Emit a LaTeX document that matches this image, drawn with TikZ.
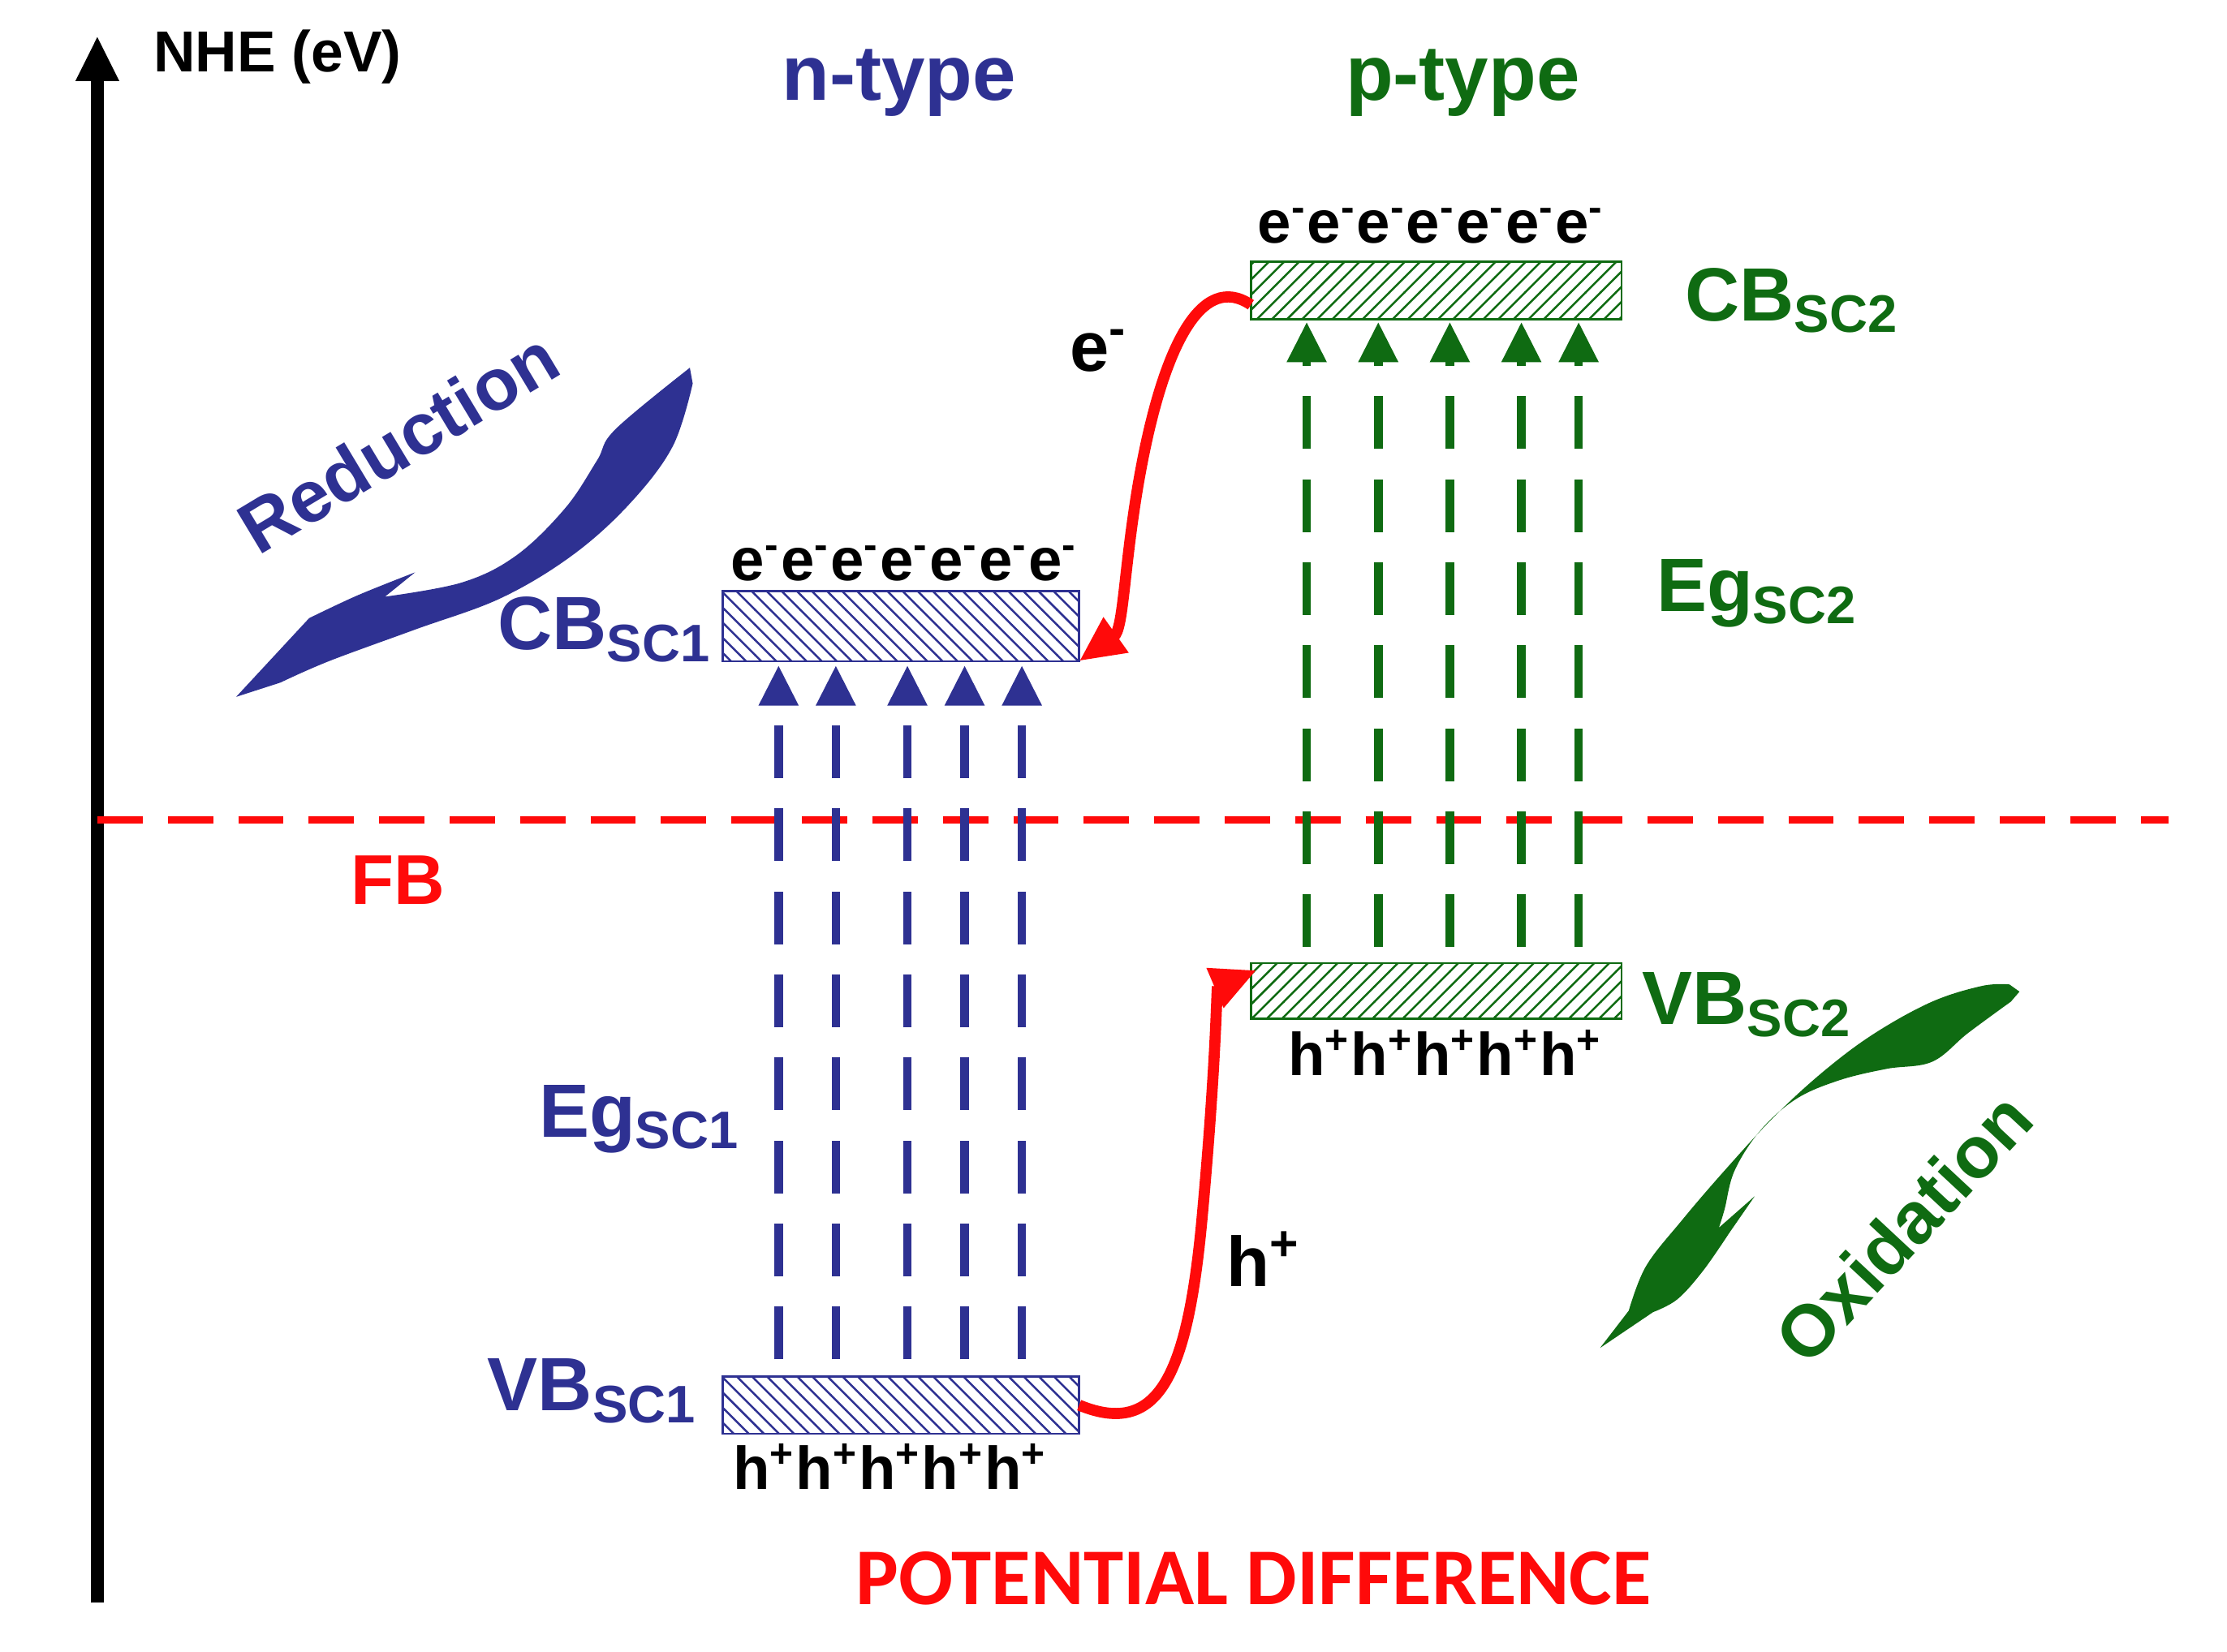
\documentclass[tikz,border=0pt]{standalone}
\usepackage{fontspec}
\setmainfont{Liberation Sans}
\newfontfamily\calib{Carlito}
\usetikzlibrary{patterns,arrows.meta}
\definecolor{nb}{HTML}{2E3192}
\definecolor{pg}{HTML}{0F6B12}
\definecolor{rd}{HTML}{FF0A0A}
\newcommand{\elm}{e\textsuperscript{-}}
\newcommand{\hpl}{h\textsuperscript{+}}
\begin{document}
\begin{tikzpicture}[x=0.01cm,y=-0.01cm,
  lbl/.style={font=\bfseries\fontsize{15}{15}\selectfont},
  bandn/.style={draw=nb,pattern=north west lines,pattern color=nb},
  bandp/.style={draw=pg,pattern=north east lines,pattern color=pg},
  excn/.style={nb,line width=1.7pt,dash pattern=on 10.5pt off 6pt,-{Triangle[length=8pt,width=7.5pt]}},
  excp/.style={pg,line width=1.7pt,dash pattern=on 10.5pt off 6pt,-{Triangle[length=8pt,width=7.5pt]}},
  carrier/.style={font=\bfseries\fontsize{12}{12}\selectfont},
  tr/.style={rd,line width=2.2pt,-{Triangle[length=9pt,width=8pt]}}]
\useasboundingbox (0,0) rectangle (1556,1154);
% axis
\coordinate (ax0) at (68,1120); \coordinate (ax1) at (68,25);
\draw[line width=2.5pt,-{Triangle[length=9pt,width=8pt]}] (ax0) -- (ax1);
\node[font=\bfseries\fontsize{11.5}{12}\selectfont,anchor=west] (nhe) at (95,40) {NHE (eV)};
\node[font=\bfseries\fontsize{15.5}{16}\selectfont,nb] (nt) at (628,58) {n-type};
\node[font=\bfseries\fontsize{15.5}{16}\selectfont,pg] (pt) at (1022,58) {p-type};
% FB line
\coordinate (fb0) at (68,573); \coordinate (fb1) at (1515,573);
\draw[rd,line width=1.6pt,dash pattern=on 9pt off 5pt] (fb0) -- (fb1);
\node[font=\bfseries\fontsize{14}{14}\selectfont,rd] (fb) at (278,615) {FB};
% bands
\draw[bandn] (505,413) rectangle (754,462); \coordinate (cb1r) at (754,462);
\draw[bandn] (505,962) rectangle (754,1002); \coordinate (vb1r) at (754,982);
\draw[bandp] (874,183) rectangle (1133,223); \coordinate (cb2l) at (874,213);
\draw[bandp] (874,673) rectangle (1133,712); \coordinate (vb2l) at (878,678);
% carriers
\node[carrier] (e1) at (632,394) {\elm\elm\elm\elm\elm\elm\elm};
\node[carrier] (h1) at (622,1025) {\hpl\hpl\hpl\hpl\hpl};
\node[carrier] (e2) at (1000,158) {\elm\elm\elm\elm\elm\elm\elm};
\node[carrier] (h2) at (1010,736) {\hpl\hpl\hpl\hpl\hpl};
% excitation arrows
\foreach \x in {544,584,634,674,714}{\draw[excn] (\x,950) -- (\x,465);}
\foreach \x in {913,963,1013,1063,1103}{\draw[excp] (\x,662) -- (\x,225);}
% labels
\node[lbl,nb,anchor=east] (cb1) at (510,440) {CB\textsubscript{SC1}};
\node[lbl,nb,anchor=east] (eg1) at (530,782) {Eg\textsubscript{SC1}};
\node[lbl,nb,anchor=east] (vb1) at (500,972) {VB\textsubscript{SC1}};
\node[lbl,pg,anchor=west] (cb2) at (1165,210) {CB\textsubscript{SC2}};
\node[lbl,pg,anchor=west] (eg2) at (1145,415) {Eg\textsubscript{SC2}};
\node[lbl,pg,anchor=west] (vb2) at (1135,702) {VB\textsubscript{SC2}};
% transfers
\draw[tr] (cb2l) .. controls (840,190) and (812,240) .. (795,340) .. controls (785,400) and (785,440) .. (cb1r);
\draw[tr] (vb1r) .. controls (810,1005) and (830,960) .. (840,850) .. controls (850,740) and (850,690) .. (vb2l);
\node[font=\bfseries\fontsize{14}{14}\selectfont] (el) at (768,245) {\elm};
\node[font=\bfseries\fontsize{14}{14}\selectfont] (hl) at (883,880) {\hpl};
\node[font=\calib\bfseries\fontsize{16}{16}\selectfont,rd] (pd) at (876,1103) {POTENTIAL DIFFERENCE};
% reduction
\node[font=\bfseries\fontsize{14.5}{15}\selectfont,nb,rotate=31] (red) at (278,309) {Reduction};
\fill[nb] (165,487) -- plot[smooth,tension=0.6] coordinates {(216,432) (250,416) (290,400)} -- (269,417)
  -- plot[smooth,tension=0.6] coordinates {(269,417) (323,407) (361,388) (395,355) (417,322) (430,300) (482,257)}
  -- plot[smooth,tension=0.6] coordinates {(484,268) (470,312) (440,352) (400,388) (350,418) (290,440) (230,462) (196,477)}
  -- cycle;
% oxidation
\node[font=\bfseries\fontsize{14.5}{15}\selectfont,pg,rotate=47] (ox) at (1330,858) {Oxidation};
\fill[pg] (1118,942) -- plot[smooth,tension=0.6] coordinates {(1138,916) (1150,885) (1175,853) (1205,818) (1240,780) (1275,748) (1310,722) (1350,700) (1385,689) (1404,688)}
  -- (1411,693)
  -- plot[smooth,tension=0.6] coordinates {(1405,700) (1375,722) (1350,742) (1318,747) (1285,755) (1255,768) (1230,790) (1212,818) (1205,845) (1201,858)}
  -- (1226,836)
  -- plot[smooth,tension=0.6] coordinates {(1208,862) (1190,888) (1172,908) (1155,917)}
  -- cycle;
\end{tikzpicture}
\end{document}
